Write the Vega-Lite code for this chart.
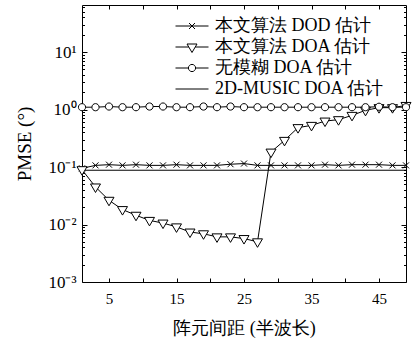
{
  "$schema": "https://vega.github.io/schema/vega-lite/v6.json",
  "width": 324,
  "height": 277,
  "autosize": {"type": "none"},
  "padding": {"left": 82, "top": 5, "right": 9, "bottom": 56},
  "background": "white",
  "config": {
    "view": {"stroke": "black", "strokeWidth": 1},
    "font": "Liberation Serif",
    "axis": {
      "domain": false,
      "grid": false,
      "tickColor": "black",
      "tickWidth": 1,
      "labelColor": "black",
      "titleColor": "black",
      "labelFont": "Liberation Serif",
      "titleFont": "Liberation Serif",
      "titleFontWeight": "normal",
      "labelOverlap": false,
      "labelFlush": false
    },
    "legend": {
      "labelFont": "Liberation Serif",
      "labelFontSize": 18,
      "labelColor": "black",
      "labelLimit": 0,
      "rowPadding": 3,
      "padding": 0,
      "labelOffset": 14
    }
  },
  "data": {
    "values": [
      {"s": "本文算法 DOD 估计", "x": 1, "v": 0.095},
      {"s": "本文算法 DOD 估计", "x": 3, "v": 0.107},
      {"s": "本文算法 DOD 估计", "x": 5, "v": 0.11},
      {"s": "本文算法 DOD 估计", "x": 7, "v": 0.107},
      {"s": "本文算法 DOD 估计", "x": 9, "v": 0.11},
      {"s": "本文算法 DOD 估计", "x": 11, "v": 0.107},
      {"s": "本文算法 DOD 估计", "x": 13, "v": 0.107},
      {"s": "本文算法 DOD 估计", "x": 15, "v": 0.11},
      {"s": "本文算法 DOD 估计", "x": 17, "v": 0.107},
      {"s": "本文算法 DOD 估计", "x": 19, "v": 0.107},
      {"s": "本文算法 DOD 估计", "x": 21, "v": 0.107},
      {"s": "本文算法 DOD 估计", "x": 23, "v": 0.112},
      {"s": "本文算法 DOD 估计", "x": 25, "v": 0.115},
      {"s": "本文算法 DOD 估计", "x": 27, "v": 0.107},
      {"s": "本文算法 DOD 估计", "x": 29, "v": 0.107},
      {"s": "本文算法 DOD 估计", "x": 31, "v": 0.107},
      {"s": "本文算法 DOD 估计", "x": 33, "v": 0.107},
      {"s": "本文算法 DOD 估计", "x": 35, "v": 0.107},
      {"s": "本文算法 DOD 估计", "x": 37, "v": 0.11},
      {"s": "本文算法 DOD 估计", "x": 39, "v": 0.107},
      {"s": "本文算法 DOD 估计", "x": 41, "v": 0.11},
      {"s": "本文算法 DOD 估计", "x": 43, "v": 0.11},
      {"s": "本文算法 DOD 估计", "x": 45, "v": 0.11},
      {"s": "本文算法 DOD 估计", "x": 47, "v": 0.107},
      {"s": "本文算法 DOD 估计", "x": 49, "v": 0.107},
      {"s": "本文算法 DOA 估计", "x": 1, "v": 0.09},
      {"s": "本文算法 DOA 估计", "x": 3, "v": 0.045},
      {"s": "本文算法 DOA 估计", "x": 5, "v": 0.0264},
      {"s": "本文算法 DOA 估计", "x": 7, "v": 0.0182},
      {"s": "本文算法 DOA 估计", "x": 9, "v": 0.0145},
      {"s": "本文算法 DOA 估计", "x": 11, "v": 0.0118},
      {"s": "本文算法 DOA 估计", "x": 13, "v": 0.0106},
      {"s": "本文算法 DOA 估计", "x": 15, "v": 0.0091},
      {"s": "本文算法 DOA 估计", "x": 17, "v": 0.0074},
      {"s": "本文算法 DOA 估计", "x": 19, "v": 0.0069},
      {"s": "本文算法 DOA 估计", "x": 21, "v": 0.0061},
      {"s": "本文算法 DOA 估计", "x": 23, "v": 0.0061},
      {"s": "本文算法 DOA 估计", "x": 25, "v": 0.0057},
      {"s": "本文算法 DOA 估计", "x": 27, "v": 0.005},
      {"s": "本文算法 DOA 估计", "x": 29, "v": 0.182},
      {"s": "本文算法 DOA 估计", "x": 31, "v": 0.291},
      {"s": "本文算法 DOA 估计", "x": 33, "v": 0.485},
      {"s": "本文算法 DOA 估计", "x": 35, "v": 0.531},
      {"s": "本文算法 DOA 估计", "x": 37, "v": 0.631},
      {"s": "本文算法 DOA 估计", "x": 39, "v": 0.667},
      {"s": "本文算法 DOA 估计", "x": 41, "v": 0.793},
      {"s": "本文算法 DOA 估计", "x": 43, "v": 0.97},
      {"s": "本文算法 DOA 估计", "x": 45, "v": 1.08},
      {"s": "本文算法 DOA 估计", "x": 47, "v": 1.08},
      {"s": "本文算法 DOA 估计", "x": 49, "v": 1.18},
      {"s": "无模糊 DOA 估计", "x": 1, "v": 1.1},
      {"s": "无模糊 DOA 估计", "x": 3, "v": 1.1},
      {"s": "无模糊 DOA 估计", "x": 5, "v": 1.13},
      {"s": "无模糊 DOA 估计", "x": 7, "v": 1.1},
      {"s": "无模糊 DOA 估计", "x": 9, "v": 1.1},
      {"s": "无模糊 DOA 估计", "x": 11, "v": 1.13},
      {"s": "无模糊 DOA 估计", "x": 13, "v": 1.13},
      {"s": "无模糊 DOA 估计", "x": 15, "v": 1.1},
      {"s": "无模糊 DOA 估计", "x": 17, "v": 1.1},
      {"s": "无模糊 DOA 估计", "x": 19, "v": 1.13},
      {"s": "无模糊 DOA 估计", "x": 21, "v": 1.1},
      {"s": "无模糊 DOA 估计", "x": 23, "v": 1.13},
      {"s": "无模糊 DOA 估计", "x": 25, "v": 1.1},
      {"s": "无模糊 DOA 估计", "x": 27, "v": 1.1},
      {"s": "无模糊 DOA 估计", "x": 29, "v": 1.1},
      {"s": "无模糊 DOA 估计", "x": 31, "v": 1.1},
      {"s": "无模糊 DOA 估计", "x": 33, "v": 1.1},
      {"s": "无模糊 DOA 估计", "x": 35, "v": 1.1},
      {"s": "无模糊 DOA 估计", "x": 37, "v": 1.1},
      {"s": "无模糊 DOA 估计", "x": 39, "v": 1.1},
      {"s": "无模糊 DOA 估计", "x": 41, "v": 1.1},
      {"s": "无模糊 DOA 估计", "x": 43, "v": 1.1},
      {"s": "无模糊 DOA 估计", "x": 45, "v": 1.12},
      {"s": "无模糊 DOA 估计", "x": 47, "v": 1.1},
      {"s": "无模糊 DOA 估计", "x": 49, "v": 1.1},
      {"s": "2D-MUSIC DOA 估计", "x": 1, "v": 0.088},
      {"s": "2D-MUSIC DOA 估计", "x": 49, "v": 0.088}
    ]
  },
  "layer": [
    {
      "mark": {"type": "line", "stroke": "black", "strokeWidth": 1},
      "encoding": {
        "x": {
          "field": "x", "type": "quantitative",
          "scale": {"domain": [1, 49], "nice": false, "zero": false},
          "axis": {
            "orient": "bottom",
            "values": [5, 10, 15, 20, 25, 30, 35, 40, 45],
            "labelExpr": "datum.value % 10 == 5 ? datum.label : ''",
            "tickSize": -4,
            "labelPadding": 13,
            "labelFontSize": 15,
            "title": "阵元间距 (半波长)",
            "titleFontSize": 18,
            "titlePadding": 13
          }
        },
        "y": {
          "field": "v", "type": "quantitative",
          "scale": {"type": "log", "domain": [0.001, 66], "nice": false},
          "axis": {
            "orient": "left",
            "values": [0.001, 0.01, 0.1, 1, 10],
            "labelExpr": "['10⁻³','10⁻²','10⁻¹','10⁰','10¹'][round(log(datum.value)/LN10)+3]",
            "tickSize": -5,
            "labelPadding": 11,
            "labelFontSize": 17,
            "title": "PMSE (°)",
            "titleFontSize": 19,
            "titlePadding": 13
          }
        },
        "detail": {"field": "s", "type": "nominal"}
      }
    },
    {
      "transform": [{"filter": "datum.s != '2D-MUSIC DOA 估计'"}],
      "mark": {"type": "point", "filled": true, "fill": "white", "stroke": "black", "strokeWidth": 1, "size": 100, "opacity": 1},
      "encoding": {
        "x": {
          "field": "x", "type": "quantitative",
          "scale": {"domain": [1, 49], "nice": false, "zero": false},
          "axis": {"orient": "top", "values": [5, 10, 15, 20, 25, 30, 35, 40, 45], "labels": false, "tickSize": -4, "title": null}
        },
        "y": {
          "field": "v", "type": "quantitative",
          "scale": {"type": "log", "domain": [0.001, 66], "nice": false},
          "axis": {"orient": "right", "values": [0.001, 0.01, 0.1, 1, 10], "labels": false, "tickSize": -5, "title": null}
        },
        "shape": {
          "field": "s", "type": "nominal",
          "scale": {
            "domain": ["本文算法 DOD 估计", "本文算法 DOA 估计", "无模糊 DOA 估计"],
            "range": [
              "M-0.6,-0.6L0.6,0.6M-0.6,0.6L0.6,-0.6",
              "M-1,-0.6L1,-0.6L0,1.1Z",
              "M0.72,0A0.72,0.72,0,1,1,-0.72,0A0.72,0.72,0,1,1,0.72,0Z"
            ]
          },
          "legend": null
        }
      }
    },
    {
      "transform": [{"filter": "datum.x < 0"}],
      "mark": {"type": "point", "filled": false, "color": "black", "strokeWidth": 1, "size": 100},
      "encoding": {
        "x": {
          "field": "x", "type": "quantitative",
          "scale": {"domain": [1, 49], "nice": false, "zero": false},
          "axis": null
        },
        "y": {
          "field": "v", "type": "quantitative",
          "scale": {"type": "log", "domain": [0.001, 66], "nice": false},
          "axis": {"orient": "left", "values": [0.002, 0.003, 0.004, 0.005, 0.006, 0.007, 0.008, 0.009, 0.02, 0.03, 0.04, 0.05, 0.06, 0.07, 0.08, 0.09, 0.2, 0.3, 0.4, 0.5, 0.6, 0.7, 0.8, 0.9, 2, 3, 4, 5, 6, 7, 8, 9, 20, 30, 40, 50, 60], "labels": false, "tickSize": -2.5, "title": null}
        },
        "shape": {
          "field": "s", "type": "nominal",
          "scale": {
            "domain": ["本文算法 DOD 估计", "本文算法 DOA 估计", "无模糊 DOA 估计", "2D-MUSIC DOA 估计"],
            "range": [
              "M-3.3,0L3.3,0M-0.6,-0.6L0.6,0.6M-0.6,0.6L0.6,-0.6",
              "M-3.3,0L-0.65,0M0.65,0L3.3,0M-1,-0.6L1,-0.6L0,1.1Z",
              "M-3.3,0L-0.72,0M0.72,0L3.3,0M0.72,0A0.72,0.72,0,1,1,-0.72,0A0.72,0.72,0,1,1,0.72,0Z",
              "M-3.3,0L3.3,0"
            ]
          },
          "legend": {
            "orient": "none",
            "legendX": 101,
            "legendY": 12,
            "title": null,
            "symbolSize": 100,
            "symbolStrokeWidth": 1,
            "symbolStrokeColor": "black",
            "symbolOpacity": 1
          }
        }
      }
    },
    {
      "transform": [{"filter": "datum.x < 0"}],
      "mark": {"type": "point"},
      "encoding": {
        "x": {
          "field": "x", "type": "quantitative",
          "scale": {"domain": [1, 49], "nice": false, "zero": false},
          "axis": null
        },
        "y": {
          "field": "v", "type": "quantitative",
          "scale": {"type": "log", "domain": [0.001, 66], "nice": false},
          "axis": {"orient": "right", "values": [0.002, 0.003, 0.004, 0.005, 0.006, 0.007, 0.008, 0.009, 0.02, 0.03, 0.04, 0.05, 0.06, 0.07, 0.08, 0.09, 0.2, 0.3, 0.4, 0.5, 0.6, 0.7, 0.8, 0.9, 2, 3, 4, 5, 6, 7, 8, 9, 20, 30, 40, 50, 60], "labels": false, "tickSize": -2.5, "title": null}
        }
      }
    }
  ],
  "resolve": {
    "scale": {"shape": "independent"},
    "axis": {"x": "independent", "y": "independent"},
    "legend": {"shape": "independent"}
  }
}
